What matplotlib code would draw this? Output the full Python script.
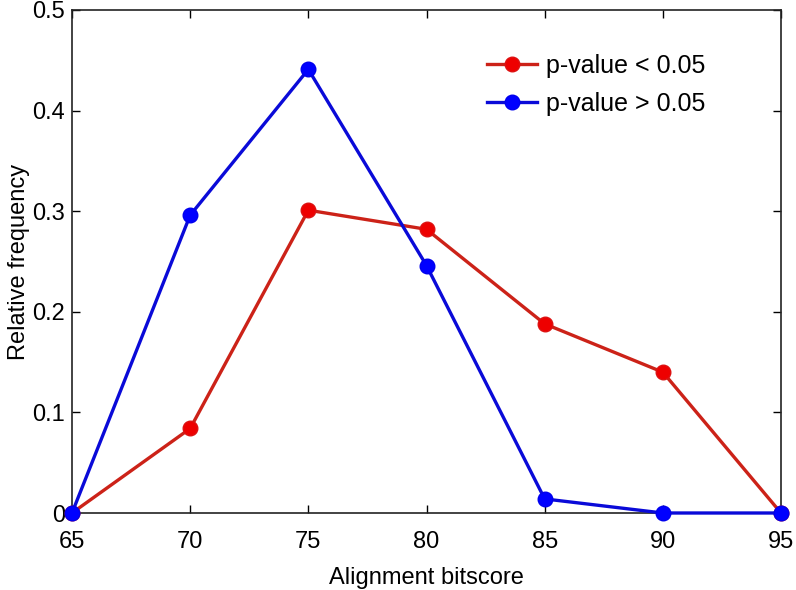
import matplotlib
matplotlib.use("Agg")
import matplotlib.pyplot as plt

x = [65, 70, 75, 80, 85, 90, 95]
red_vals = [0, 0.084, 0.301, 0.282, 0.188, 0.140, 0]
blue_vals = [0, 0.296, 0.441, 0.246, 0.014, 0, 0]
xticks = [65, 70, 75, 80, 85, 90, 95]
yticks = [0, 0.1, 0.2, 0.3, 0.4, 0.5]
ylabels = ["0", "0.1", "0.2", "0.3", "0.4", "0.5"]

plt.rcParams['font.family'] = ['Liberation Sans', 'DejaVu Sans']

fig = plt.figure(figsize=(7.96, 5.90), dpi=100)
ax = fig.add_axes([72/796, 1-513/590, (781-72)/796, (513-10)/590])

ax.plot(x, red_vals, color='#cc2218', lw=2.4, marker='o', ms=10.5,
        mfc='#ee0000', mec='#dd1111', label='p-value < 0.05', clip_on=False, zorder=3)
ax.plot(x, blue_vals, color='#0a0ad8', lw=2.4, marker='o', ms=10.5,
        mfc='#0000ff', mec='#0000ee', label='p-value > 0.05', clip_on=False, zorder=4)

ax.set_xlim(65, 95)
ax.set_ylim(0, 0.5)
ax.set_xticks(xticks)
ax.set_yticks(yticks)
ax.set_yticklabels(ylabels)
ax.tick_params(direction='in', top=True, right=True, length=6, width=1,
               labelsize=17)
ax.tick_params(axis='x', pad=13)
ax.tick_params(axis='y', pad=5)
for s in ax.spines.values():
    s.set_linewidth(1.2)
    s.set_color('#222222')

ax.set_xlabel('Alignment bitscore', fontsize=17, labelpad=10)
ax.set_ylabel('Relative frequency', fontsize=17, labelpad=2)

leg = ax.legend(loc='upper left', bbox_to_anchor=(0.585, 0.913), frameon=False,
                fontsize=18, handlelength=2.0, handletextpad=0.35, labelspacing=0.55,
                borderpad=0, borderaxespad=0)

fig.savefig('out.png', dpi=100)
